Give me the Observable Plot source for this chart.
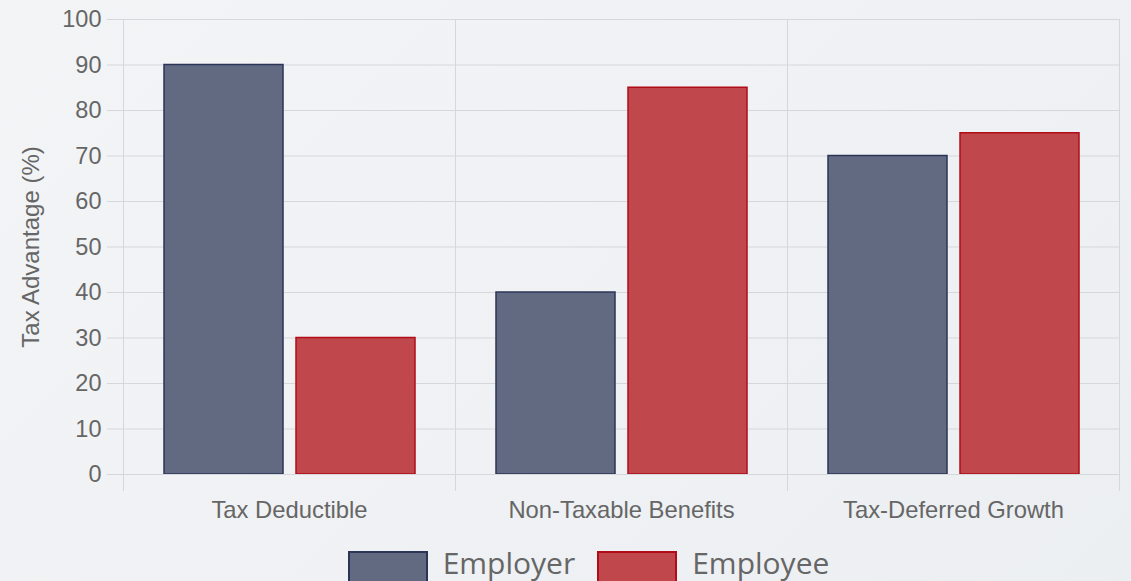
<!DOCTYPE html>
<html>
<head>
<meta charset="utf-8">
<script src="https://cdn.jsdelivr.net/npm/d3@7"></script>
<script src="https://cdn.jsdelivr.net/npm/@observablehq/plot@0.6"></script>
<style>
  html, body { margin: 0; padding: 0; }
  body {
    width: 1131px; height: 581px; overflow: hidden; position: relative;
    background: linear-gradient(135deg, #f3f4f6 0%, #eceff2 100%);
  }
  #legend {
    position: absolute; top: 551px; left: 0;
    display: flex; justify-content: center; align-items: flex-start;
    width: 1131px; box-sizing: border-box; padding-left: 46px;
    font-family: "Open Sans", Lato, sans-serif; font-size: 30px; color: #666;
  }
  .item { display: flex; align-items: flex-start; margin: 0 11px; }
  .swatch { width: 76px; height: 30px; border: 2px solid; margin-right: 15px; }
  .item span { line-height: 34px; position: relative; top: -5px; }
</style>
</head>
<body>
<div id="chart"></div>
<div id="legend"></div>
<script>
const categories = ["Tax Deductible", "Non-Taxable Benefits", "Tax-Deferred Growth"];
const seriesNames = ["Employer", "Employee"];
const employerValues = [90, 40, 70];
const employeeValues = [30, 85, 75];
const yTicks = [0, 10, 20, 30, 40, 50, 60, 70, 80, 90, 100];

const fills = {Employer: "#626a82", Employee: "#c0474c"};
const strokes = {Employer: "#2b3556", Employee: "#b00d18"};

const data = categories.flatMap((c, i) => [
  {category: c, series: "Employer", value: employerValues[i]},
  {category: c, series: "Employee", value: employeeValues[i]}
]);

const grid = "#d5d7db";

const chart = Plot.plot({
  width: 1131,
  height: 545,
  marginLeft: 122,
  marginRight: 12,
  marginTop: 19,
  marginBottom: 71,
  style: {background: "transparent", fontFamily: "'Liberation Sans', Arial, sans-serif", fontSize: "23px", color: "#666"},
  fx: {domain: categories, padding: 0, label: null},
  x: {domain: seriesNames, paddingInner: 0.1, paddingOuter: 0.3, axis: null},
  y: {domain: [0, 100]},
  marks: [
    Plot.gridY(yTicks, {stroke: grid, strokeOpacity: 1}),
    Plot.frame({anchor: "left", insetBottom: -16, stroke: grid, strokeOpacity: 1}),
    Plot.frame({anchor: "right", insetBottom: -16, stroke: grid, strokeOpacity: 1}),
    Plot.axisY(yTicks, {tickSize: 16, tickPadding: 6, stroke: grid, strokeOpacity: 1, fill: "#666", fontSize: 23.5,
      label: null}),
    Plot.axisY({ticks: [], tickSize: 0, label: "Tax Advantage (%)", labelAnchor: "center", labelArrow: "none",
      labelOffset: 102, fontSize: 24, fill: "#666"}),
    Plot.axisFx({anchor: "bottom", tickSize: 0, tickPadding: 27, fill: "#666", fontSize: 23.8, label: null}),
    ...seriesNames.map(s => Plot.barY(data.filter(d => d.series === s), {
      fx: "category", x: "series", y: "value",
      fill: fills[s], stroke: strokes[s], strokeWidth: 1.5
    })),
    Plot.ruleY([0], {stroke: grid})
  ]
});
document.getElementById("chart").append(chart);

const legend = document.getElementById("legend");
seriesNames.forEach(s => {
  const item = document.createElement("div");
  item.className = "item";
  const sw = document.createElement("div");
  sw.className = "swatch";
  sw.style.background = fills[s];
  sw.style.borderColor = strokes[s];
  const label = document.createElement("span");
  label.textContent = s;
  item.append(sw, label);
  legend.append(item);
});
</script>
</body>
</html>
